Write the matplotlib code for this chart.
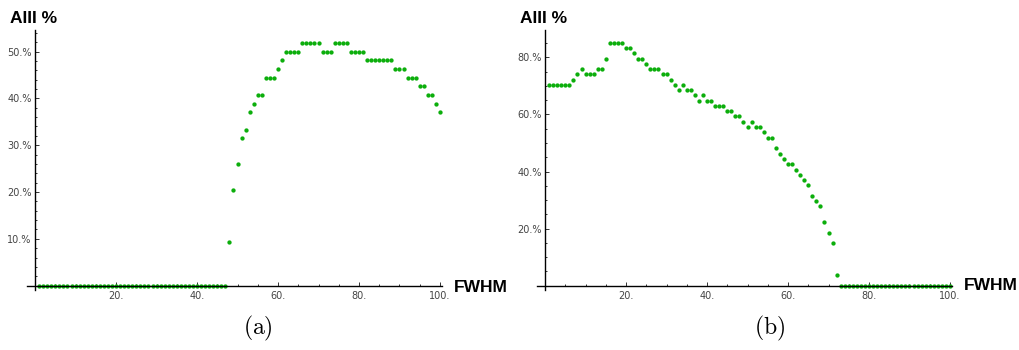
import matplotlib
matplotlib.use("Agg")
import matplotlib.pyplot as plt
from matplotlib.ticker import MultipleLocator, FixedLocator
import numpy as np

# ---- data ----
fwhm = list(range(1, 101))

aiii_a = [0.0] * 47 + [
    9.3, 20.4, 25.9, 31.5, 33.3, 37.0, 38.9, 40.7, 40.7, 44.4,
    44.4, 44.4, 46.3, 48.1, 50.0, 50.0, 50.0, 50.0, 51.9, 51.9,
    51.9, 51.9, 51.9, 50.0, 50.0, 50.0, 51.9, 51.9, 51.9, 51.9,
    50.0, 50.0, 50.0, 50.0, 48.1, 48.1, 48.1, 48.1, 48.1, 48.1,
    48.1, 46.3, 46.3, 46.3, 44.4, 44.4, 44.4, 42.6, 42.6, 40.7,
    40.7, 38.9, 37.0]

aiii_b = [
    70.4, 70.4, 70.4, 70.4, 70.4, 70.4, 72.2, 74.1, 75.9, 74.1,
    74.1, 74.1, 75.9, 75.9, 79.6, 85.2, 85.2, 85.2, 85.2, 83.3,
    83.3, 81.5, 79.6, 79.6, 77.8, 75.9, 75.9, 75.9, 74.1, 74.1,
    72.2, 70.4, 68.5, 70.4, 68.5, 68.5, 66.7, 64.8, 66.7, 64.8,
    64.8, 63.0, 63.0, 63.0, 61.1, 61.1, 59.3, 59.3, 57.4, 55.6,
    57.4, 55.6, 55.6, 53.7, 51.9, 51.9, 48.1, 46.3, 44.4, 42.6,
    42.6, 40.7, 38.9, 37.0, 35.2, 31.5, 29.6, 27.8, 22.2, 18.5,
    14.8, 3.7] + [0.0] * 28

x_ticks = [20, 40, 60, 80, 100]
x_tick_labels = ["20.", "40.", "60.", "80.", "100."]
y_ticks_a = [10, 20, 30, 40, 50]
y_ticks_b = [20, 40, 60, 80]

# ---- figure ----
W, H = 1019, 350
fig = plt.figure(figsize=(W / 100, H / 100), dpi=100)

green = "#0cae0c"
label_font = dict(family="Liberation Sans", weight="bold", size=12.5, color="black")


def px_axes(x0, x1, y0, y1):
    return fig.add_axes([x0 / W, 1 - y1 / H, (x1 - x0) / W, (y1 - y0) / H])


def setup(ax, x, y, ylim, yticks, ymin_step):
    ax.plot(x, y, "o", color=green, markersize=3.1, markeredgewidth=0,
            zorder=2, clip_on=False)
    ax.set_xlim(-2.07, 100.5)
    ax.set_ylim(*ylim)
    for s in ("top", "right"):
        ax.spines[s].set_visible(False)
    ax.spines["left"].set_position(("data", 0))
    ax.spines["bottom"].set_position(("data", 0))
    for s in ("left", "bottom"):
        ax.spines[s].set_linewidth(1.0)
        ax.spines[s].set_color("black")
        ax.spines[s].set_zorder(3)
    ax.xaxis.set_major_locator(FixedLocator(x_ticks))
    ax.set_xticklabels(x_tick_labels)
    ax.xaxis.set_minor_locator(MultipleLocator(5))
    ax.yaxis.set_major_locator(FixedLocator(yticks))
    ax.set_yticklabels([f"{v}.%" for v in yticks])
    ax.yaxis.set_minor_locator(MultipleLocator(ymin_step))
    ax.tick_params(which="both", direction="in", color="#333333", width=0.7,
                   labelsize=7, labelcolor="#444444")
    ax.tick_params(which="major", length=3.0)
    ax.tick_params(which="minor", length=1.6)
    ax.tick_params(axis="x", pad=4)
    ax.tick_params(axis="y", pad=2.5)
    for lab in ax.get_xticklabels() + ax.get_yticklabels():
        lab.set_family("DejaVu Sans")
    ax.patch.set_alpha(0)


# panel (a)
ax1 = px_axes(26.7, 442, 30, 290)
setup(ax1, fwhm, aiii_a, (-0.92, 54.6), y_ticks_a, 2)
# panel (b)
ax2 = px_axes(536.7, 952, 30, 290)
setup(ax2, fwhm, aiii_b, (-1.5, 89.6), y_ticks_b, 5)

# axis labels
fig.text(10.5 / W, 1 - 23 / H, "AIII %", ha="left", va="baseline", **label_font)
fig.text(520.5 / W, 1 - 23 / H, "AIII %", ha="left", va="baseline", **label_font)
fig.text(454 / W, 1 - 291.5 / H, "FWHM", ha="left", va="baseline", **label_font)
fig.text(964 / W, 1 - 290.5 / H, "FWHM", ha="left", va="baseline", **label_font)

# subcaptions
plt.rcParams["mathtext.fontset"] = "cm"
fig.text(258 / W, 1 - 328 / H, r"$\mathrm{(a)}$", ha="center", va="center", size=17)
fig.text(770 / W, 1 - 328 / H, r"$\mathrm{(b)}$", ha="center", va="center", size=17)

fig.savefig("out.png", dpi=100, facecolor="white")
